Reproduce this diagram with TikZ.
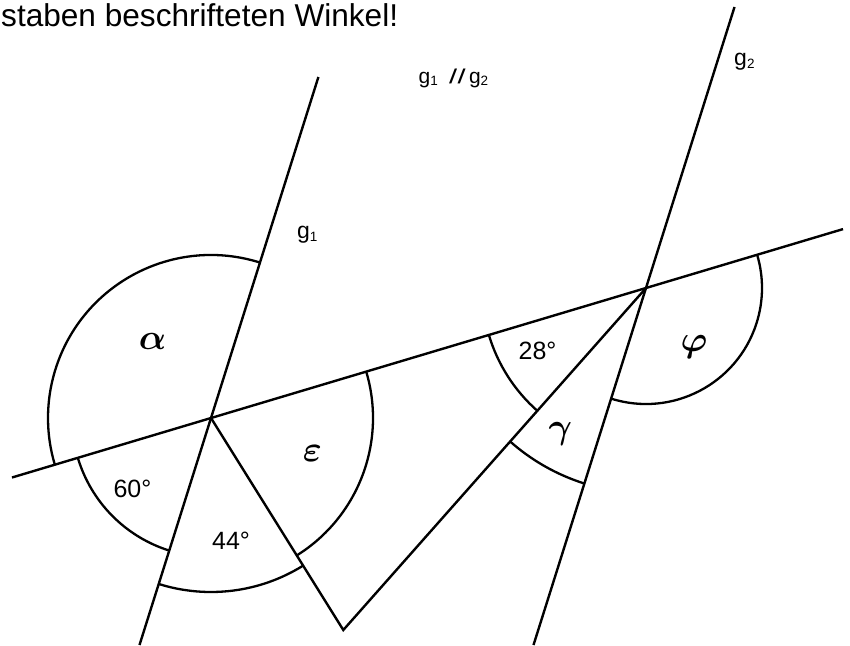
\documentclass[tikz,border=0pt]{standalone}
\usepackage{fix-cm}
\usepackage{amsmath}
\usepackage{fontspec}
\setmainfont{Liberation Sans}
\usetikzlibrary{angles}
\newcommand{\gsub}[1]{\raisebox{-2.5pt}{\fontsize{13.5}{14}\selectfont #1}}
\begin{document}
\begin{tikzpicture}[x=1pt,y=1pt,line width=2.4pt,
  arcmark/.style={draw,line width=2.3pt,angle radius=#1},
  deg/.style={font=\fontsize{25}{30}\selectfont,inner sep=0},
  greek/.style={font=\fontsize{36}{40}\selectfont,inner sep=0},
  glabel/.style={font=\fontsize{23}{26}\selectfont,inner sep=0,anchor=base west}]
\useasboundingbox (0,0) rectangle (850,-645);
% points
\coordinate (A) at (211,-418);
\coordinate (B) at (646,-288);
\coordinate (C) at (343.3,-630);
\coordinate (L) at (12,-477.5);
\coordinate (R) at (843,-229.1);
\coordinate (G1t) at (318.4,-77);
\coordinate (G1b) at (139.5,-645);
\coordinate (G2t) at (734.5,-7);
\coordinate (G2b) at (533.5,-645);
% lines
\draw (L) -- (R);
\draw (G1t) -- (G1b);
\draw (G2t) -- (G2b);
\draw (A) -- (C) -- (B);
% angle arcs at A
\pic[arcmark=163pt] {angle=G1t--A--L};
\pic[arcmark=139pt] {angle=L--A--G1b};
\pic[arcmark=174pt] {angle=G1b--A--C};
\pic[arcmark=162pt] {angle=C--A--R};
% angle arcs at B
\pic[arcmark=164pt] {angle=L--B--C};
\pic[arcmark=205pt] {angle=C--B--G2b};
\pic[arcmark=116pt] {angle=G2b--B--R};
% labels
\node[greek] (la) at (152.5,-341.7) {$\boldsymbol{\alpha}$};
\node[greek] (le) at (312.5,-453) {$\boldsymbol{\varepsilon}$};
\node[greek] (lc) at (560.5,-434) {$\boldsymbol{\gamma}$};
\node[greek] (lp) at (694,-346.7) {$\boldsymbol{\varphi}$};
\node[deg] (l60) at (132.5,-489) {60°};
\node[deg] (l44) at (231,-541) {44°};
\node[deg] (l28) at (537.5,-351) {28°};
\node[glabel] (lg1) at (296,-238.5) {g\gsub{1}};
\node[glabel] (lg2) at (733,-65.5) {g\gsub{2}};
\node[glabel,font=\fontsize{21}{24}\selectfont] (lpar) at (417.5,-83) {g\gsub{1}\hspace{12pt}{\fontsize{20}{22}\selectfont\bfseries\itshape /\kern3pt/}\hspace{5pt}g\gsub{2}};
\node[anchor=base west,inner sep=0,font=\fontsize{31.6}{36}\selectfont] (title) at (0,-26.7) {staben beschrifteten Winkel!};
\end{tikzpicture}
\end{document}
